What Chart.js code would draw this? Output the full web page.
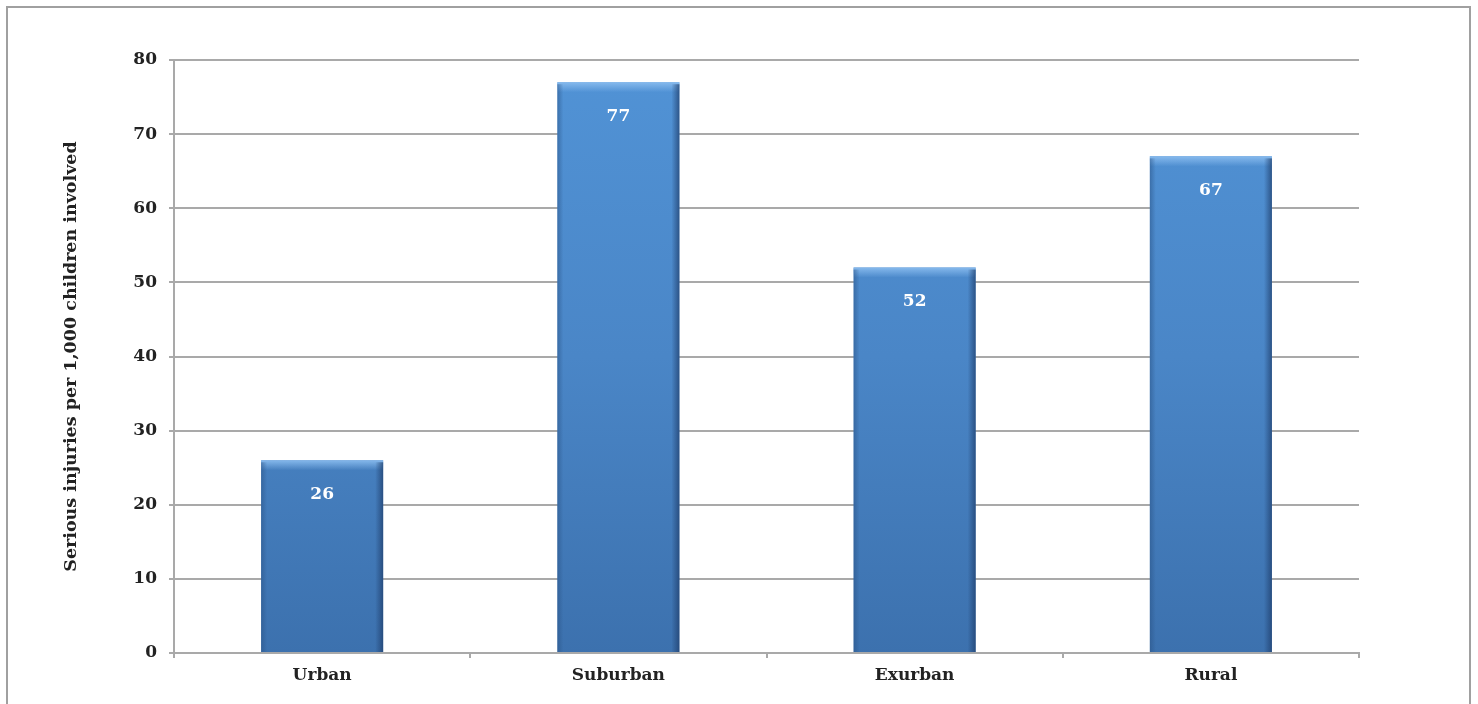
<!DOCTYPE html>
<html>
<head>
<meta charset="utf-8">
<script src="https://cdn.jsdelivr.net/npm/chart.js@4/dist/chart.umd.min.js"></script>
<style>
  html, body { margin: 0; padding: 0; background: #fff; }
  #wrap { width: 1478px; height: 704px; position: relative; }
</style>
</head>
<body>
<div id="wrap"><canvas id="injuries-chart"></canvas></div>
<script>
const categories = ['Urban', 'Suburban', 'Exurban', 'Rural']
const injuriesPer1000 = [26, 77, 52, 67]
const yTicks = [0, 10, 20, 30, 40, 50, 60, 70, 80]
const yTitle = 'Serious injuries per 1,000 children involved'

const FONT = "'DejaVu Serif', serif"
const GRID = '#a9a9a9'

// outer frame round the whole figure
const framePlugin = {
  id: 'frame',
  beforeDraw (chart) {
    const { ctx } = chart
    ctx.save()
    ctx.strokeStyle = '#a0a0a0'
    ctx.lineWidth = 2
    ctx.strokeRect(7, 7, chart.width - 15, chart.height + 20)
    ctx.restore()
  }
}

// bevel shading on each bar and the value printed near its top
const barDecor = {
  id: 'barDecor',
  afterDatasetsDraw (chart) {
    const { ctx } = chart
    const meta = chart.getDatasetMeta(0)
    meta.data.forEach((bar, i) => {
      const left = bar.x - bar.width / 2
      const right = bar.x + bar.width / 2
      const top = bar.y
      const bottom = bar.base
      ctx.save()
      // top highlight
      let g = ctx.createLinearGradient(0, top, 0, top + 10)
      g.addColorStop(0, 'rgba(140,190,240,0.9)')
      g.addColorStop(1, 'rgba(140,190,240,0)')
      ctx.fillStyle = g
      ctx.fillRect(left, top, bar.width, 10)
      // left edge
      g = ctx.createLinearGradient(left, 0, left + 6, 0)
      g.addColorStop(0, 'rgba(40,80,130,0.5)')
      g.addColorStop(1, 'rgba(40,80,130,0)')
      ctx.fillStyle = g
      ctx.fillRect(left, top + 2, 6, bottom - top - 2)
      // right edge
      g = ctx.createLinearGradient(right - 8, 0, right, 0)
      g.addColorStop(0, 'rgba(30,60,105,0)')
      g.addColorStop(1, 'rgba(30,60,105,0.7)')
      ctx.fillStyle = g
      ctx.fillRect(right - 8, top + 2, 8, bottom - top - 2)
      // value label
      ctx.fillStyle = '#ffffff'
      ctx.font = `bold 17px ${FONT}`
      ctx.textAlign = 'center'
      ctx.textBaseline = 'middle'
      ctx.fillText(String(injuriesPer1000[i]), bar.x, top + 34)
      ctx.restore()
    })
  }
}

function barFill (context) {
  const { chart } = context
  const area = chart.chartArea
  if (!area) return '#4a86c6'
  const g = chart.ctx.createLinearGradient(0, area.top, 0, area.bottom)
  g.addColorStop(0, '#5193d6')
  g.addColorStop(0.5, '#4a86c7')
  g.addColorStop(1, '#3c71ae')
  return g
}

const ctx = document.getElementById('injuries-chart').getContext('2d')
new Chart(ctx, {
  type: 'bar',
  data: {
    labels: categories,
    datasets: [{
      data: injuriesPer1000,
      backgroundColor: barFill,
      borderWidth: 0,
      categoryPercentage: 1,
      barPercentage: 0.412
    }]
  },
  options: {
    responsive: true,
    maintainAspectRatio: false,
    animation: false,
    layout: { padding: { left: 0, top: 60, right: 119, bottom: 0 } },
    plugins: {
      legend: { display: false },
      tooltip: { enabled: false }
    },
    scales: {
      x: {
        grid: {
          offset: true,
          drawOnChartArea: false,
          drawTicks: true,
          tickLength: 5,
          color: GRID,
          lineWidth: 2
        },
        border: { color: GRID, width: 2 },
        ticks: {
          color: '#222',
          padding: 7,
          font: { family: FONT, size: 17, weight: 'bold' }
        },
        afterFit (scale) { scale.height = 51 }
      },
      y: {
        min: 0,
        max: 80,
        afterBuildTicks (scale) { scale.ticks = yTicks.map(v => ({ value: v })) },
        grid: { color: GRID, lineWidth: 2, tickLength: 5 },
        border: { color: GRID, width: 2 },
        ticks: {
          color: '#222',
          padding: 12,
          font: { family: FONT, size: 17, weight: 'bold' }
        },
        title: {
          display: true,
          text: yTitle,
          color: '#222',
          padding: { top: 61 },
          font: { family: FONT, size: 17.5, weight: 'bold' }
        },
        afterFit (scale) { scale.width = 174 }
      }
    }
  },
  plugins: [framePlugin, barDecor]
})
</script>
</body>
</html>
